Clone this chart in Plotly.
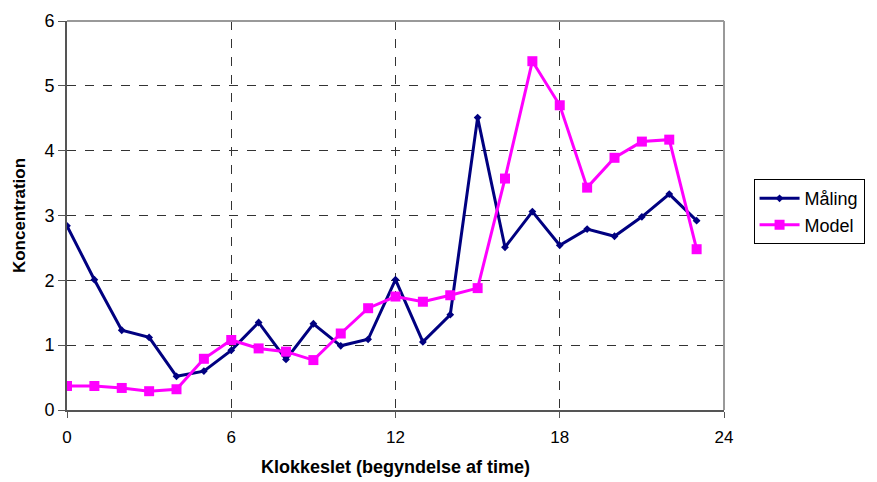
import plotly.graph_objects as go

hours = list(range(24))
maling = [2.84, 2.01, 1.23, 1.12, 0.52, 0.60, 0.92, 1.35, 0.78, 1.33, 0.99, 1.09,
          2.01, 1.05, 1.47, 4.51, 2.51, 3.06, 2.54, 2.79, 2.68, 2.98, 3.33, 2.92]
model = [0.37, 0.37, 0.34, 0.29, 0.32, 0.79, 1.08, 0.95, 0.90, 0.77, 1.18, 1.57,
         1.75, 1.67, 1.77, 1.88, 3.57, 5.38, 4.70, 3.43, 3.89, 4.14, 4.17, 2.48]
x_ticks = [0, 6, 12, 18, 24]
y_ticks = [0, 1, 2, 3, 4, 5, 6]

fig = go.Figure()
fig.add_trace(go.Scatter(x=hours, y=maling, name="Måling", mode="lines+markers",
                         line=dict(color="#000080", width=3),
                         marker=dict(symbol="diamond", size=6, color="#000080")))
fig.add_trace(go.Scatter(x=hours, y=model, name="Model", mode="lines+markers",
                         line=dict(color="#FF00FF", width=3),
                         marker=dict(symbol="square", size=10, color="#FF00FF")))

fig.update_layout(
    width=869, height=474,
    margin=dict(l=59, r=136, t=13, b=72),
    paper_bgcolor="white", plot_bgcolor="white",
    font=dict(family="Liberation Sans, Arial, sans-serif", color="black"),
    legend=dict(x=1.045, y=0.51, xanchor="left", yanchor="middle",
                bordercolor="black", borderwidth=1, bgcolor="white",
                font=dict(size=18, family="Liberation Sans, Arial, sans-serif"),
                tracegroupgap=0, itemwidth=40),
    showlegend=True,
)
fig.update_xaxes(range=[0, 24], tickvals=x_ticks, ticktext=[str(v) for v in x_ticks],
                 automargin=False,
                 showgrid=True, gridcolor="#333333", gridwidth=1, griddash="dash",
                 showline=True, linecolor="#555555", linewidth=2,
                 ticks="outside", ticklen=6, tickcolor="#555555",
                 ticklabelstandoff=5,
                 zeroline=False,
                 tickfont=dict(size=17),
                 title=dict(text="Klokkeslet (begyndelse af time)", standoff=14,
                            font=dict(size=18, weight="bold")))
fig.update_yaxes(range=[0, 6], tickvals=y_ticks,
                 automargin=False,
                 showgrid=True, gridcolor="#333333", gridwidth=1, griddash="dash",
                 showline=True, linecolor="#555555", linewidth=2,
                 ticks="outside", ticklen=7, tickcolor="#555555",
                 zeroline=False,
                 tickfont=dict(size=18),
                 title=dict(text="Koncentration", standoff=14,
                            font=dict(size=17, weight="bold")))
# gray frame on top and right
fig.add_shape(type="line", xref="paper", yref="paper", x0=0, x1=1, y0=1, y1=1,
              line=dict(color="#999999", width=2))
fig.add_shape(type="line", xref="paper", yref="paper", x0=1, x1=1, y0=0, y1=1,
              line=dict(color="#999999", width=2))

fig.write_html("out.html")
